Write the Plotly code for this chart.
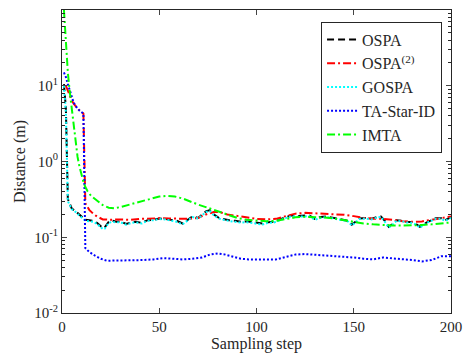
import plotly.graph_objects as go

# ---------------- data ----------------
ospa_x = [1, 2, 3, 4, 5, 7, 9, 11, 12, 14, 16, 18, 20, 21, 22, 24, 26, 28, 30, 33, 36, 38, 41, 44, 47,
          50, 53, 56, 59, 62, 65, 67, 70, 72, 74, 76, 78, 81, 84, 86, 89, 92, 95, 98, 101, 103, 106,
          109, 112, 115, 118, 121, 124, 127, 130, 133, 136, 139, 142, 145, 147, 149, 151, 153, 156,
          159, 162, 164, 166, 168, 170, 172, 175, 177, 180, 182, 184, 186, 188, 190, 192, 195, 197, 200]
ospa_y = [10.5, 5.0, 0.32, 0.27, 0.24, 0.22, 0.20, 0.18, 0.17, 0.168, 0.165, 0.155, 0.14, 0.132, 0.135,
          0.16, 0.165, 0.16, 0.162, 0.15, 0.158, 0.16, 0.155, 0.168, 0.17, 0.177, 0.175, 0.168, 0.165,
          0.152, 0.17, 0.188, 0.18, 0.20, 0.22, 0.228, 0.20, 0.178, 0.17, 0.168, 0.165, 0.16, 0.162,
          0.158, 0.155, 0.152, 0.158, 0.16, 0.172, 0.185, 0.195, 0.19, 0.192, 0.195, 0.175, 0.185,
          0.188, 0.182, 0.177, 0.172, 0.165, 0.147, 0.16, 0.177, 0.18, 0.175, 0.185, 0.188, 0.165,
          0.137, 0.15, 0.168, 0.165, 0.16, 0.158, 0.15, 0.137, 0.15, 0.16, 0.168, 0.178, 0.178, 0.168, 0.185]

gospa_x = [1, 2, 3, 4, 5, 7, 9, 11, 12, 14, 16, 18, 20, 21, 22, 24, 26, 28, 30, 33, 36, 38, 41, 44, 47,
           50, 53, 56, 59, 62, 65, 67, 70, 72, 74, 76, 78, 81, 84, 86, 89, 92, 95, 98, 101, 103, 106,
           109, 112, 115, 118, 121, 124, 127, 130, 133, 136, 139, 142, 145, 147, 149, 151, 153, 156,
           159, 162, 164, 166, 168, 170, 172, 175, 177, 180, 182, 184, 186, 188, 190, 192, 195, 197, 200]
gospa_y = [10.0, 4.5, 0.30, 0.26, 0.235, 0.215, 0.195, 0.175, 0.165, 0.163, 0.16, 0.15, 0.137, 0.128,
           0.13, 0.155, 0.16, 0.157, 0.158, 0.147, 0.155, 0.157, 0.152, 0.165, 0.168, 0.174, 0.172,
           0.165, 0.16, 0.148, 0.167, 0.185, 0.177, 0.197, 0.215, 0.222, 0.195, 0.175, 0.166, 0.164,
           0.16, 0.156, 0.158, 0.155, 0.15, 0.147, 0.155, 0.157, 0.168, 0.18, 0.19, 0.186, 0.188, 0.19,
           0.17, 0.18, 0.185, 0.178, 0.174, 0.168, 0.162, 0.143, 0.157, 0.174, 0.177, 0.172, 0.182,
           0.185, 0.16, 0.134, 0.147, 0.165, 0.162, 0.157, 0.155, 0.147, 0.134, 0.147, 0.157, 0.165,
           0.175, 0.175, 0.165, 0.18]

ospa2_x = [2, 3, 4, 5, 6, 7, 8, 9, 10, 11, 12, 13, 14, 16, 18, 21, 25, 30, 35, 40, 45, 50, 55, 60, 65,
           70, 74, 78, 81, 85, 90, 95, 100, 105, 110, 115, 120, 125, 130, 135, 140, 145, 150, 155, 160,
           165, 170, 175, 180, 185, 190, 195, 200]
ospa2_y = [10.0, 8.5, 7.3, 6.4, 5.8, 5.3, 5.0, 4.7, 4.5, 4.3, 0.28, 0.25, 0.23, 0.205, 0.188, 0.172, 0.17,
           0.172, 0.17, 0.175, 0.178, 0.178, 0.177, 0.176, 0.175, 0.18, 0.20, 0.215, 0.215, 0.20, 0.19,
           0.18, 0.175, 0.172, 0.175, 0.19, 0.205, 0.21, 0.208, 0.205, 0.20, 0.198, 0.19, 0.18, 0.175,
           0.175, 0.17, 0.163, 0.16, 0.162, 0.17, 0.178, 0.188]

ta_x = [1, 2, 3, 4, 5, 6, 7, 8, 9, 10, 11, 12, 14, 17, 20, 23, 27, 32, 37, 42, 47, 52, 57, 62, 67, 72,
        76, 80, 84, 88, 92, 96, 100, 105, 110, 115, 120, 125, 130, 135, 140, 145, 150, 155, 160, 165,
        170, 175, 180, 185, 190, 195, 200]
ta_y = [15.0, 13.0, 10.5, 8.5, 7.0, 6.0, 5.4, 5.0, 4.7, 4.5, 4.3, 0.072, 0.064, 0.057, 0.052, 0.049,
        0.049, 0.05, 0.05, 0.05, 0.051, 0.053, 0.052, 0.051, 0.052, 0.054, 0.059, 0.061, 0.059, 0.055,
        0.052, 0.051, 0.051, 0.05, 0.051, 0.055, 0.059, 0.06, 0.059, 0.058, 0.057, 0.056, 0.054, 0.052,
        0.051, 0.054, 0.053, 0.052, 0.05, 0.048, 0.05, 0.056, 0.056]

imta_x = [1, 2, 3, 4, 5, 6, 7, 8, 9, 10, 11, 12, 13, 15, 17, 19, 21, 24, 27, 30, 35, 40, 45, 50, 54,
          58, 62, 66, 70, 75, 80, 85, 90, 95, 100, 105, 110, 115, 120, 125, 130, 135, 140, 145, 150,
          155, 160, 165, 170, 175, 180, 185, 190, 195, 200]
imta_y = [100.0, 35.0, 15.0, 8.3, 4.8, 2.8, 1.7, 1.15, 0.85, 0.66, 0.54, 0.46, 0.41, 0.35, 0.32, 0.285,
          0.265, 0.245, 0.242, 0.25, 0.27, 0.295, 0.32, 0.345, 0.352, 0.345, 0.325, 0.295, 0.27, 0.245,
          0.22, 0.20, 0.18, 0.17, 0.165, 0.163, 0.165, 0.175, 0.183, 0.186, 0.185, 0.182, 0.177, 0.168,
          0.158, 0.152, 0.148, 0.145, 0.143, 0.143, 0.143, 0.145, 0.148, 0.152, 0.157]

y_tickvals = [0.01, 0.1, 1, 10, 100]
y_ticktext = ["10<sup>-2</sup>", "10<sup>-1</sup>", "10<sup>0</sup>", "10<sup>1</sup>", "10<sup>2</sup>"]
x_tickvals = [0, 50, 100, 150, 200]

# ---------------- figure ----------------
FONT = "Liberation Serif"
INK = "#262626"
fig = go.Figure()
fig.add_trace(go.Scatter(x=ospa_x, y=ospa_y, mode="lines", name="OSPA",
                         line=dict(color="black", width=2, dash="7px,4px")))
fig.add_trace(go.Scatter(x=ospa2_x, y=ospa2_y, mode="lines", name="OSPA<sup>(2)</sup>",
                         line=dict(color="red", width=2, dash="8px,3px,2px,3px")))
fig.add_trace(go.Scatter(x=gospa_x, y=gospa_y, mode="lines", name="GOSPA",
                         line=dict(color="cyan", width=2, dash="2px,2px")))
fig.add_trace(go.Scatter(x=ta_x, y=ta_y, mode="lines", name="TA-Star-ID",
                         line=dict(color="blue", width=2, dash="2px,2px")))
fig.add_trace(go.Scatter(x=imta_x, y=imta_y, mode="lines", name="IMTA",
                         line=dict(color="#00ff00", width=2, dash="8px,3px,2px,3px")))

minor_vals = [m * 10 ** e for e in range(-2, 2) for m in range(2, 10)]

fig.update_layout(
    width=463, height=364,
    margin=dict(l=62, r=12, t=10, b=51, autoexpand=False),
    paper_bgcolor="white", plot_bgcolor="white",
    font=dict(family=FONT, size=15, color=INK),
    showlegend=True,
    legend=dict(x=0.977, y=0.962, xanchor="right", yanchor="top",
                bgcolor="white", bordercolor=INK, borderwidth=1,
                font=dict(family=FONT, size=16, color=INK),
                tracegroupgap=0, itemwidth=30),
    xaxis=dict(range=[0, 200], tickvals=x_tickvals, ticks="inside", ticklen=5,
               showline=True, linecolor=INK, linewidth=1, mirror="allticks",
               showgrid=False, zeroline=False, automargin=False,
               tickfont=dict(family=FONT, size=15),
               title=dict(text="Sampling step", standoff=1, font=dict(family=FONT, size=16))),
    yaxis=dict(type="log", range=[-2, 2], tickvals=y_tickvals, ticktext=y_ticktext,
               ticks="inside", ticklen=5,
               showline=True, linecolor=INK, linewidth=1, mirror="allticks",
               showgrid=False, zeroline=False, automargin=False,
               tickfont=dict(family=FONT, size=15),
               minor=dict(tickmode="array", tickvals=minor_vals, ticks="inside", ticklen=3,
                          tickcolor=INK),
               title=dict(text="Distance (m)", standoff=4, font=dict(family=FONT, size=16))),
)

fig.write_html("out.html", config={"displayModeBar": False},
               post_script="document.body.style.margin='0px';")
